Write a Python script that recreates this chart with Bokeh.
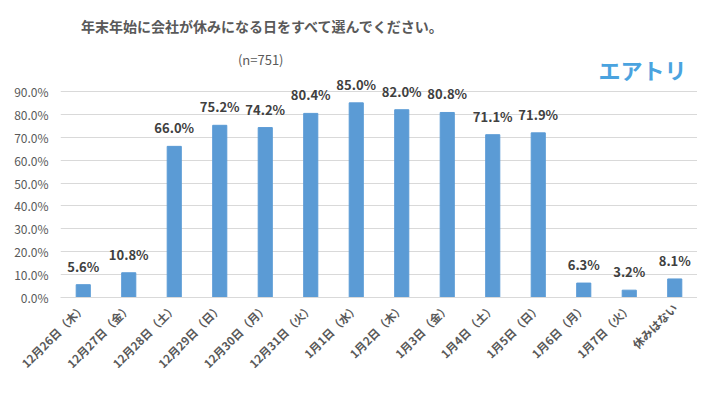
from bokeh.plotting import figure
from bokeh.models import FactorRange, Range1d, FixedTicker, PrintfTickFormatter, Label, ColumnDataSource
from bokeh.core.properties import value
from bokeh.embed import file_html
from bokeh.resources import INLINE
import math

categories = ["12月26日（木）", "12月27日（金）", "12月28日（土）", "12月29日（日）", "12月30日（月）",
              "12月31日（火）", "1月1日（水）", "1月2日（木）", "1月3日（金）", "1月4日（土）",
              "1月5日（日）", "1月6日（月）", "1月7日（火）", "休みはない"]
values = [5.6, 10.8, 66.0, 75.2, 74.2, 80.4, 85.0, 82.0, 80.8, 71.1, 71.9, 6.3, 3.2, 8.1]
y_ticks = [0, 10, 20, 30, 40, 50, 60, 70, 80, 90]
title_text = "年末年始に会社が休みになる日をすべて選んでください。"
subtitle_text = "(n=751)"
logo_text = "エアトリ"

FONT = "Noto Sans CJK JP"

src = ColumnDataSource(dict(cat=categories, val=values, lab=["%.1f%%" % v for v in values]))

p = figure(width=697, height=382, output_backend="svg", toolbar_location=None,
           x_range=FactorRange(*categories), y_range=Range1d(0, 129.7),
           min_border_left=60, min_border_right=0, min_border_top=0, min_border_bottom=85)
p.outline_line_color = None
p.background_fill_color = "white"
p.border_fill_color = "white"

p.vbar(x="cat", top="val", width=0.31, source=src, color="#5b9bd5")
p.text(x="cat", y="val", text="lab", source=src, text_align="center", text_baseline="bottom",
       y_offset=-9, text_font=value(FONT), text_font_style="bold", text_font_size="13px",
       text_color="#404040")

p.xgrid.grid_line_color = None
p.ygrid.grid_line_color = "#d9d9d9"
p.yaxis.ticker = FixedTicker(ticks=y_ticks)
p.yaxis.formatter = PrintfTickFormatter(format="%.1f%%")
p.yaxis.axis_line_color = None
p.yaxis.major_tick_line_color = None
p.yaxis.major_tick_out = 0
p.yaxis.major_label_standoff = 12
p.yaxis.minor_tick_line_color = None
p.yaxis.major_label_text_font = FONT
p.yaxis.major_label_text_font_size = "12px"
p.yaxis.major_label_text_color = "#595959"

p.xaxis.axis_line_color = "#d9d9d9"
p.xaxis.major_tick_line_color = None
p.xaxis.major_tick_out = 0
p.xaxis.major_label_standoff = 8
p.xaxis.major_label_orientation = math.pi / 4
p.xaxis.major_label_text_font = FONT
p.xaxis.major_label_text_font_size = "11.5px"
p.xaxis.major_label_text_font_style = "bold"
p.xaxis.major_label_text_color = "#595959"

p.add_layout(Label(x=4.45, y=118.6, text=title_text, text_align="center", text_baseline="middle",
                   text_font=FONT, text_font_size="14px", text_font_style="bold", text_color="#595959"))
p.add_layout(Label(x=4.40, y=103.9, text=subtitle_text, text_align="center", text_baseline="middle",
                   text_font=FONT, text_font_size="13px", text_color="#595959"))
p.add_layout(Label(x=12.79, y=100, text=logo_text, text_align="center", text_baseline="middle",
                   text_font=FONT, text_font_size="22px", text_font_style="bold", text_color="#4aa3df"))

open("out.html", "w").write(file_html(p, INLINE))
